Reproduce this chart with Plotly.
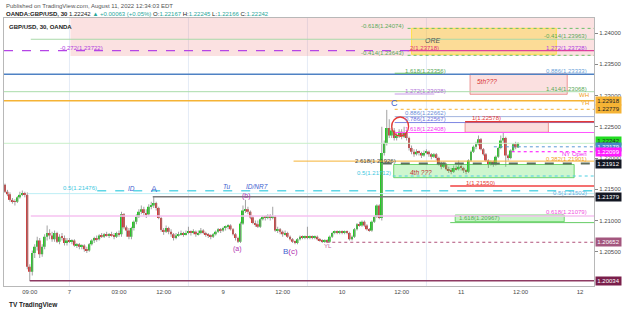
import pandas as pd
import plotly.graph_objects as go

# ---------------- data (GBP/USD 30m, OANDA) ----------------
fri_o = [1.2157,1.2146,1.2142,1.2133,1.2131,1.2130,1.2137,1.2141,1.2143,1.2141,1.2026,1.2018,1.2048,1.2058,1.2068,1.2046,1.2058,1.2074,1.2080,1.2076,1.2070,1.2080,1.2066,1.2074,1.2072,1.2064]
fri_h = [1.2159,1.2149,1.2145,1.2136,1.2134,1.2139,1.2146,1.2148,1.2146,1.2145,1.2030,1.2052,1.2062,1.2074,1.2072,1.2062,1.2078,1.2092,1.2086,1.2082,1.2084,1.2082,1.2078,1.2080,1.2076,1.2072]
fri_l = [1.2144,1.2139,1.2130,1.2127,1.2124,1.2128,1.2135,1.2139,1.2137,1.2022,1.20034,1.2012,1.2040,1.2052,1.2040,1.2042,1.2054,1.2068,1.2070,1.2066,1.2066,1.2064,1.2062,1.2068,1.2060,1.2060]
fri_c = [1.2146,1.2142,1.2133,1.2131,1.2130,1.2137,1.2141,1.2143,1.2141,1.2026,1.2018,1.2048,1.2058,1.2068,1.2046,1.2058,1.2074,1.2080,1.2076,1.2070,1.2080,1.2066,1.2074,1.2072,1.2064,1.2068]

wk_o = [1.2068,1.2066,1.2068,1.2060,1.2062,1.2058,1.2060,1.2054,1.2052,1.2062,1.2068,
        1.2072,1.2070,1.2076,1.2074,1.2078,1.2076,1.2078,1.2076,1.2074,1.2080,
        1.2078,1.2110,1.2089,1.2084,1.2074,1.2088,1.2098,1.2106,1.2114,1.2118,
        1.2112,1.2110,1.2122,1.2124,1.2128,1.2120,1.2104,1.2085,1.2082,1.2088,
        1.2082,1.2078,1.2072,1.2076,1.2078,1.2080,1.2078,1.2080,1.2082,1.2080,
        1.2082,1.2078,1.2080,1.2084,1.2080,1.2078,1.2076,1.2074,1.2078,1.2082,
        1.2086,
        1.2084,1.2088,1.2090,1.2092,1.2086,1.2078,1.2072,1.2066,1.2095,1.2116,
        1.2118,1.2114,1.2105,1.2096,1.2094,1.2090,1.2102,1.2106,1.2104,1.2108,
        1.2104,1.2106,1.2084,1.2086,1.2082,1.2078,1.2080,1.2074,1.2070,1.2066,
        1.2064,1.2070,1.2074,1.2072,1.2074,1.2072,1.2074,1.2072,1.2074,1.2070,
        1.2068,1.2066,1.2068,1.2066,1.2074,1.2080,1.2082,1.2080,1.2082,1.2081,
        1.2082,1.2080,1.2070,1.2074,1.2086,1.2094,1.2092,1.2098,1.2092,1.2086,
        1.2084,1.2098,1.2106,1.2124,1.2104,1.2208,1.2224,1.2248,1.2236,1.2244,
        1.2232,1.2236,1.2242,1.2234,1.2240,1.2232,1.2216,1.2210,1.2206,1.2210,
        1.2208,1.2204,1.2208,1.2210,1.2206,1.2202,1.2206,1.2200,1.2192,1.2186,
        1.2190,1.2182,1.2180,1.2178,1.2184,1.2182,1.2186,1.2184,1.2180,1.2178,
        1.2196,1.2210,1.2218,1.2222,1.2230,1.2214,1.2206,1.2196,1.2190,1.2194,
        1.2190,1.2202,1.2216,1.2228,1.2232,1.2204,1.2200,1.2212,1.2222,1.22167]
wk_h = [1.2072,1.2070,1.2070,1.2064,1.2064,1.2062,1.2062,1.2058,1.2064,1.2070,1.2074,
        1.2076,1.2078,1.2080,1.2080,1.2082,1.2080,1.2082,1.2080,1.2082,1.2084,
        1.2114,1.2112,1.2092,1.2088,1.2090,1.2100,1.2110,1.2118,1.2124,1.2122,
        1.2118,1.2126,1.2130,1.2138,1.2130,1.2122,1.2106,1.2088,1.2092,1.2090,
        1.2086,1.2080,1.2080,1.2082,1.2084,1.2082,1.2084,1.2090,1.2084,1.2086,
        1.2084,1.2084,1.2088,1.2086,1.2082,1.2080,1.2078,1.2080,1.2084,1.2088,
        1.2088,
        1.2090,1.2092,1.2094,1.2094,1.2088,1.2080,1.2074,1.2098,1.2124,1.2133,
        1.2122,1.2116,1.2108,1.2100,1.2100,1.2104,1.2108,1.2108,1.2110,1.2110,
        1.2122,1.2108,1.2090,1.2088,1.2084,1.2084,1.2082,1.2076,1.2072,1.2068,
        1.2072,1.2076,1.2076,1.2076,1.2090,1.2076,1.2076,1.2076,1.2076,1.2072,
        1.2070,1.2070,1.2070,1.2076,1.2082,1.2084,1.2084,1.2084,1.2084,1.2084,
        1.2084,1.2082,1.2076,1.2088,1.2096,1.2098,1.2100,1.2100,1.2094,1.2088,
        1.2100,1.2108,1.2126,1.2126,1.2250,1.2228,1.2277,1.2262,1.2254,1.2248,
        1.2240,1.2246,1.2246,1.2250,1.2244,1.2234,1.2220,1.2214,1.2214,1.2212,
        1.2210,1.2212,1.2214,1.2212,1.2208,1.2208,1.2208,1.2202,1.2194,1.2194,
        1.2192,1.2186,1.2184,1.2188,1.2188,1.2196,1.2190,1.2186,1.2182,1.2198,
        1.2212,1.2220,1.2226,1.2236,1.2232,1.2216,1.2208,1.2198,1.2196,1.2196,
        1.2204,1.2218,1.2236,1.2240,1.2234,1.2206,1.2214,1.2224,1.2226,1.22245]
wk_l = [1.2064,1.2062,1.2058,1.2056,1.2054,1.2054,1.2050,1.2048,1.2050,1.2060,1.2064,
        1.2066,1.2068,1.2072,1.2072,1.2074,1.2072,1.2074,1.2070,1.2072,1.2074,
        1.2074,1.2086,1.2074,1.2070,1.2070,1.2084,1.2094,1.2104,1.2110,1.2108,
        1.2104,1.2108,1.2118,1.2120,1.2116,1.2102,1.2082,1.2077,1.2080,1.2078,
        1.2074,1.2068,1.2070,1.2074,1.2076,1.2074,1.2076,1.2078,1.2076,1.2078,
        1.2074,1.2076,1.2078,1.2078,1.2074,1.2072,1.2070,1.2072,1.2076,1.2080,
        1.2080,
        1.2082,1.2084,1.2086,1.2084,1.2076,1.2068,1.2064,1.2064,1.2093,1.2112,
        1.2110,1.2102,1.2094,1.2090,1.2088,1.2088,1.2100,1.2100,1.2102,1.2100,
        1.2102,1.2082,1.2080,1.2078,1.2074,1.2076,1.2072,1.2068,1.2064,1.2062,
        1.2062,1.2068,1.2070,1.2070,1.2070,1.2070,1.2070,1.2070,1.2068,1.2066,
        1.2064,1.2064,1.20652,1.2064,1.2072,1.2078,1.2078,1.2078,1.2078,1.2078,
        1.2078,1.2068,1.2068,1.2072,1.2084,1.2090,1.2090,1.2090,1.2084,1.2082,
        1.2082,1.2096,1.2104,1.2102,1.2100,1.2204,1.2220,1.2232,1.2232,1.2228,
        1.2228,1.2232,1.2230,1.2232,1.2228,1.2212,1.2206,1.2202,1.2204,1.2204,
        1.2200,1.2202,1.2206,1.2202,1.2198,1.2200,1.2196,1.2188,1.2182,1.2184,
        1.2180,1.2176,1.2174,1.2176,1.2180,1.2180,1.2180,1.2176,1.2174,1.2176,
        1.2194,1.2208,1.2214,1.2220,1.2212,1.2204,1.2194,1.2184,1.2188,1.2186,
        1.2188,1.2200,1.2214,1.2224,1.2186,1.2196,1.2198,1.2210,1.2214,1.22166]
wk_c = [1.2066,1.2068,1.2060,1.2062,1.2058,1.2060,1.2054,1.2052,1.2062,1.2068,1.2072,
        1.2070,1.2076,1.2074,1.2078,1.2076,1.2078,1.2076,1.2074,1.2080,1.2078,
        1.2110,1.2089,1.2084,1.2074,1.2088,1.2098,1.2106,1.2114,1.2118,1.2112,
        1.2110,1.2122,1.2124,1.2128,1.2120,1.2104,1.2085,1.2082,1.2088,1.2082,
        1.2078,1.2072,1.2076,1.2078,1.2080,1.2078,1.2080,1.2082,1.2080,1.2082,
        1.2078,1.2080,1.2084,1.2080,1.2078,1.2076,1.2074,1.2078,1.2082,1.2086,
        1.2084,
        1.2088,1.2090,1.2092,1.2086,1.2078,1.2072,1.2066,1.2095,1.2116,1.2118,
        1.2114,1.2105,1.2096,1.2094,1.2090,1.2102,1.2106,1.2104,1.2108,1.2104,
        1.2106,1.2084,1.2086,1.2082,1.2078,1.2080,1.2074,1.2070,1.2066,1.2064,
        1.2070,1.2074,1.2072,1.2074,1.2072,1.2074,1.2072,1.2074,1.2070,1.2068,
        1.2066,1.2068,1.2066,1.2074,1.2080,1.2082,1.2080,1.2082,1.2081,1.2082,
        1.2080,1.2070,1.2074,1.2086,1.2094,1.2092,1.2098,1.2092,1.2086,1.2084,
        1.2098,1.2106,1.2124,1.2104,1.2208,1.2224,1.2248,1.2236,1.2244,1.2232,
        1.2236,1.2242,1.2234,1.2240,1.2232,1.2216,1.2210,1.2206,1.2210,1.2208,
        1.2204,1.2208,1.2210,1.2206,1.2202,1.2206,1.2200,1.2192,1.2186,1.2190,
        1.2182,1.2180,1.2178,1.2184,1.2182,1.2186,1.2184,1.2180,1.2178,1.2196,
        1.2210,1.2218,1.2222,1.2230,1.2214,1.2206,1.2196,1.2190,1.2194,1.2190,
        1.2202,1.2216,1.2228,1.2232,1.2204,1.2200,1.2212,1.2222,1.2217,1.22242]

tick_times = ["2022-08-05 09:00", "2022-08-07 17:00", "2022-08-08 03:00", "2022-08-08 12:00",
              "2022-08-09 00:00", "2022-08-09 12:00", "2022-08-10 00:00", "2022-08-10 12:00",
              "2022-08-11 00:00", "2022-08-11 12:00", "2022-08-12 00:00"]
tick_text = ["09:00", "7", "03:00", "12:00", "9", "12:00", "10", "12:00", "11", "12:00", "12"]
session_times = ["2022-08-07 17:00", "2022-08-08 17:00", "2022-08-09 17:00", "2022-08-10 17:00"]
price_ticks = [1.205, 1.210, 1.215, 1.220, 1.225, 1.230, 1.235, 1.240]

# ---------------- time axis (weekend removed) ----------------
REF = pd.Timestamp("2022-08-09 00:00")
def axis_h(ts):
    ts = pd.Timestamp(ts)
    h = (ts - REF) / pd.Timedelta(hours=1)
    return h + 48 if ts < pd.Timestamp("2022-08-06") else h

fri_t = pd.date_range("2022-08-05 04:00", periods=len(fri_c), freq="30min")
wk_t = pd.date_range("2022-08-07 17:00", periods=len(wk_c), freq="30min")
X = [axis_h(t) for t in fri_t] + [axis_h(t) for t in wk_t]
O = fri_o + wk_o
H = fri_h + wk_h
L = fri_l + wk_l
C = fri_c + wk_c

XMIN, XMAX = -44.2, 74.8
YMIN, YMAX = 1.19952, 1.2424
GREEN, RED = "#22cc22", "#d63a3a"

fig = go.Figure()
# wicks
wx, wy = [], []
for x, h, l in zip(X, H, L):
    wx += [x, x, None]
    wy += [l, h, None]
fig.add_trace(go.Scatter(x=wx, y=wy, mode="lines", line=dict(color="#8a8a8a", width=0.8),
                         hoverinfo="skip", showlegend=False))
# bodies
body_base = [min(o, c) for o, c in zip(O, C)]
body_len = [max(abs(c - o), 0.00004) for o, c in zip(O, C)]
body_col = [GREEN if c >= o else RED for o, c in zip(O, C)]
fig.add_trace(go.Bar(x=X, y=body_len, base=body_base, width=0.4,
                     marker=dict(color=body_col, line=dict(width=0)),
                     hoverinfo="skip", showlegend=False))

shapes = []
for s in session_times:
    xs = axis_h(s)
    shapes.append(dict(type="line", xref="x", yref="paper", x0=xs, x1=xs, y0=0, y1=1,
                       line=dict(color="#e4ebf6", width=1), layer="below"))

def rect(x0, x1, y0, y1, fill, line=None, lw=1):
    shapes.append(dict(type="rect", xref="x", yref="y", x0=x0, x1=x1, y0=y0, y1=y1,
                       fillcolor=fill, line=dict(color=line or "rgba(0,0,0,0)", width=lw if line else 0),
                       layer="above"))

def hline(y, x0, x1, color, w=1, dash="solid"):
    shapes.append(dict(type="line", xref="x", yref="y", x0=x0, x1=x1, y0=y, y1=y,
                       line=dict(color=color, width=w, dash=dash), layer="above"))

rect(-30.8, XMAX, 1.2363, YMAX, "rgba(235,120,120,0.22)")
rect(38.0, 67.2, 1.23659, 1.24075, "rgba(255,210,0,0.33)", "#ffe24a")
rect(49.8, 69.4, 1.23019, 1.23344, "rgba(235,100,100,0.20)", "rgba(230,110,110,0.7)")
rect(48.8, 65.6, 1.22411, 1.22571, "rgba(235,100,100,0.22)", "rgba(230,110,110,0.7)")
rect(34.4, 70.8, 1.21685, 1.21896, "rgba(60,220,60,0.25)", "rgba(60,200,60,0.7)")
rect(46.8, 68.8, 1.20981, 1.21088, "rgba(60,220,60,0.30)", "rgba(60,200,60,0.7)")

hline(1.2390, -38.8, XMAX, "#a9d9a9")
hline(1.24074, 37.2, XMAX, "#6abf69", 1, "dot")
hline(1.23643, 37.2, XMAX, "#6abf69", 1, "dot")
hline(1.23718, 37.2, XMAX, "#e0409a", 1.2)
hline(1.23718, XMIN, 38.0, "#b545e6", 1.2, "dash")
hline(1.2334, XMIN, XMAX, "#4f82c4", 1.5)
hline(1.23356, 34.6, 44.2, "#6abf69")
hline(1.23061, XMIN, XMAX, "#a9dca9")
hline(1.23024, 34.6, 42.6, "#c79ae6")
hline(1.22918, XMIN, XMAX, "#f5b335", 1.5)
hline(1.22779, 34.6, XMAX, "#f5b335", 1, "dot")
hline(1.22662, 34.6, XMAX, "#a2b4de")
hline(1.22567, 34.6, XMAX, "#7d86e3")
hline(1.22578, 48.8, XMAX, "#e53935", 1.5)
hline(1.22408, 34.6, XMAX, "#ff55ff")
hline(1.22235, XMIN, XMAX, "#c9efc9")
hline(1.22179, 54.6, XMAX, "#5b9bd5", 1, "dot")
hline(1.22100, 58.2, XMAX, "#ff00ff", 1, "dot")
hline(1.2195, 14.2, XMAX, "#f5b335")
hline(1.21912, 32.2, XMAX, "#5f6e5f", 2, "dash")
hline(1.21712, 34.2, XMAX, "#4dd0e1", 1, "dot")
hline(1.2155, 45.8, XMAX, "#f04040", 1.5)
hline(1.21476, -25.4, XMAX, "#5fd6e6", 1.5, "dash")
hline(1.2143, -39.4, XMAX, "#bdeef5")
hline(1.21379, -14.2, XMAX, "#7a7a7a", 1.5)
hline(1.21072, -38.8, XMAX, "#f6c2f0", 1.5)
hline(1.20966, 45.8, XMAX, "#66cc66")
hline(1.20652, 20.8, XMAX, "#b0507a", 1, "dot")
hline(1.20034, -39.0, XMAX, "#8e3b63", 1.5)

shapes.append(dict(type="circle", xref="x", yref="y", x0=34.0, x1=37.4, y0=1.22352, y1=1.22656,
                   line=dict(color="#e53935", width=1.3), layer="above"))

anns = []
def lab(text, x, y, color, anchor="left", size=6, italic=False):
    if italic:
        text = "<i>" + text + "</i>"
    anns.append(dict(text=text, x=x, y=y, xref="x", yref="y", xanchor=anchor, yanchor="middle",
                     showarrow=False, font=dict(size=size, color=color)))

lab("-0.618(1.24074)", 36.8, 1.2411, "#5aaa5a", "right")
lab("-0.414(1.23963)", 73.8, 1.2395, "#5aaa5a", "right")
lab("ORE", 42.4, 1.2388, "#555555", "center", 7, True)
lab("2(1.23718)", 37.2, 1.23765, "#e0307a")
lab("1.272(1.23728)", 73.8, 1.23765, "#b040e0", "right")
lab("-0.272(1.23722)", -33.4, 1.23765, "#b040e0")
lab("-0.414(1.23643)", 36.8, 1.2368, "#5aaa5a", "right")
lab("1.618(1.23356)", 36.2, 1.23392, "#5aaa5a")
lab("0.886(1.23333)", 73.8, 1.23392, "#6a9fd8", "right")
lab("5th???", 53.2, 1.23232, "#d83030", "center", 6.5, True)
lab("1.414(1.23068)", 73.8, 1.23104, "#5aaa5a", "right")
lab("1.272(1.23028)", 36.2, 1.23072, "#b070d8")
lab("WH", 74.2, 1.23008, "#f0a020", "right")
lab("YH", 74.2, 1.2288, "#f0a020", "right")
lab("C", 34.6, 1.2288, "#3f5fd0", "center", 9)
lab("0.886(1.22662)", 36.2, 1.22715, "#6a8fd8")
lab("0.786(1.22567)", 36.2, 1.22624, "#6a70e0")
lab("1(1.22578)", 49.8, 1.2264, "#e53935")
lab("1.618(1.22408)", 36.2, 1.22464, "#f040f0")
lab("NY Open", 73.8, 1.22066, "#f020f0", "right")
lab("0.382(1.21901)", 73.8, 1.21982, "#f0a020", "right")
lab("2.618(1.21926)", 26.2, 1.21952, "#444444")
lab("4th ???", 37.2, 1.21776, "#c03030", "left", 6.5, True)
lab("0.5(1.21712)", 34.2, 1.2176, "#40c8e0", "right")
lab("1(1.21550)", 48.6, 1.2160, "#e53935")
lab("0.5(1.21476)", -32.8, 1.2152, "#40c8e0")
lab("0.5(1.21502)", 73.8, 1.2144, "#6ab0e0", "right")
lab("ID", -18.4, 1.2152, "#4060d0", "center", 6.5, True)
lab("A", -14.0, 1.2150, "#3f5fd0", "center", 9)
lab("Tu", 0.6, 1.21552, "#4060d0", "center", 6.5, True)
lab("ID/NR7", 6.8, 1.21552, "#4060d0", "center", 6.5, True)
lab("(b)", 4.8, 1.21392, "#b030b0", "center", 7)
lab("0.618(1.21079)", 73.8, 1.21136, "#f050e0", "right")
lab("1.618(1.20967)", 47.2, 1.2104, "#5aaa5a")
lab("(a)", 2.8, 1.20544, "#b030b0", "center", 7)
lab("<span style='color:#3f5fd0'>B</span>(c)", 13.6, 1.20512, "#b030b0", "center", 8)
lab("YL", 21.2, 1.20592, "#c060a0", "center")

# price label boxes on the right axis
def box(y, text, bg, fc="white"):
    anns.append(dict(text=text, x=1, y=y, xref="paper", yref="y", xanchor="left", yanchor="middle",
                     xshift=1, showarrow=False, bgcolor=bg, width=25, height=8, borderpad=0,
                     font=dict(size=6, color=fc)))

box(1.22918, "1.22918", "#f5b335", "#222222")
box(1.22779, "1.22779", "#f5b335", "#222222")
box(1.22268, "1.22242", "#22dd22", "#222222")
box(1.22179, "1.22179", "#4a86c8")
box(1.22099, "1.22099", "#ff1aff")
box(1.21912, "1.21912", "#131722")
box(1.21379, "1.21379", "#131722")
box(1.20652, "1.20652", "#a3567e")
box(1.20034, "1.20034", "#7a1f4b")

# header / footer
anns.append(dict(text="Published on TradingView.com, August 11, 2022 12:34:03 EDT", x=0, y=1.045,
                 xref="paper", yref="paper", xanchor="left", yanchor="middle", showarrow=False,
                 font=dict(size=6, color="#555555")))
anns.append(dict(text="<b>OANDA:GBP/USD, 30</b> 1.22242 <span style='color:#26a69a'>▲ +0.00063 (+0.05%)</span> "
                      "O:<span style='color:#26a69a'>1.22167</span> H:<span style='color:#26a69a'>1.22245</span> "
                      "L:<span style='color:#26a69a'>1.22166</span> C:<span style='color:#26a69a'>1.22242</span>",
                 x=0, y=1.016, xref="paper", yref="paper", xanchor="left", yanchor="middle", showarrow=False,
                 font=dict(size=6, color="#222222")))
anns.append(dict(text="<b>GBP/USD, 30, OANDA</b>", x=0.005, y=0.966, xref="paper", yref="paper",
                 xanchor="left", yanchor="middle", showarrow=False, font=dict(size=6, color="#222222")))
anns.append(dict(text="<b>TV TradingView</b>", x=0.005, y=-0.072, xref="paper", yref="paper",
                 xanchor="left", yanchor="middle", showarrow=False, font=dict(size=6.5, color="#222222")))

fig.update_layout(
    width=625, height=312, margin=dict(l=3, r=27, t=18, b=26),
    paper_bgcolor="white", plot_bgcolor="white", showlegend=False, barmode="overlay",
    font=dict(family="Liberation Sans, Arial, sans-serif"),
    shapes=shapes, annotations=anns,
    xaxis=dict(range=[XMIN, XMAX], tickvals=[axis_h(t) for t in tick_times], ticktext=tick_text,
               showgrid=False, zeroline=False, showline=True, linecolor="#b8b8b8", mirror=True,
               ticks="", tickfont=dict(size=6, color="#4a4a4a")),
    yaxis=dict(range=[YMIN, YMAX], side="right", tickvals=price_ticks,
               ticktext=["%.5f" % v for v in price_ticks], showgrid=False, zeroline=False,
               showline=True, linecolor="#b8b8b8", mirror=True, ticks="outside", ticklen=3,
               tickcolor="#888888", tickfont=dict(size=6, color="#4a4a4a")),
)

fig.write_html("out.html")
